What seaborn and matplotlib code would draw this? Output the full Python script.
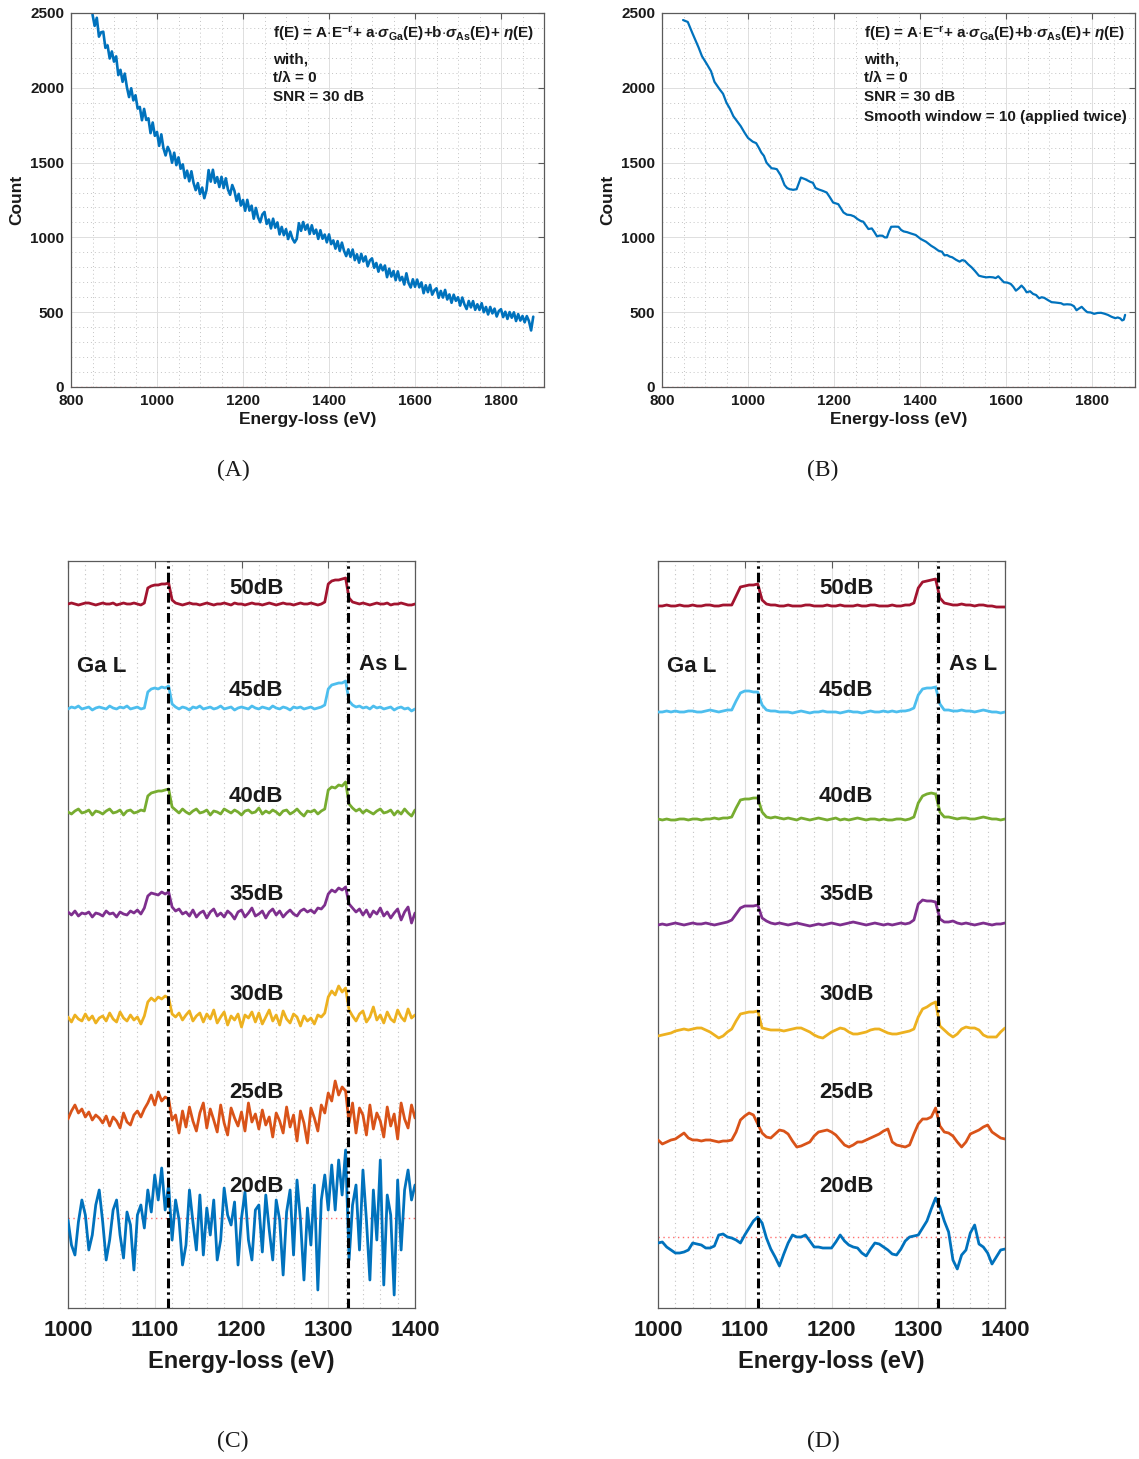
import numpy as np
import matplotlib
matplotlib.use("Agg")
import matplotlib.pyplot as plt
import seaborn as sns
from matplotlib.ticker import MultipleLocator

# ---------------- data ----------------
# Panel A: raw spectrum (5 eV sampling, 850..1875 eV)
countA = [
    2490, 2414, 2468, 2342, 2371, 2375, 2267, 2284, 2196, 2243,
    2175, 2210, 2085, 2120, 2040, 2095, 2004, 1938, 1997, 1916,
    1950, 1861, 1872, 1783, 1859, 1785, 1796, 1697, 1768, 1679,
    1705, 1612, 1689, 1596, 1548, 1605, 1572, 1499, 1566, 1483,
    1535, 1459, 1488, 1397, 1446, 1375, 1442, 1364, 1316, 1363,
    1290, 1333, 1262, 1315,
    1450, 1373, 1452, 1365, 1403, 1337,
    1405, 1330, 1395, 1320, 1285, 1350, 1312, 1244, 1291, 1213,
    1250, 1178, 1251, 1179, 1212, 1125, 1197, 1134, 1101, 1153,
    1170, 1090, 1120, 1060, 1125, 1065, 1100, 1020, 1070, 1015,
    1055, 989, 1038, 992, 966,
    990,
    1095, 1044, 1103, 1051,
    1085, 1023, 1081, 1024, 1052, 990, 1048, 991, 1019, 967,
    1020, 955, 980, 925, 975, 910, 965, 910, 875, 920,
    870, 919, 848, 887, 831, 890, 839, 873, 807, 846,
    860, 797, 829, 771, 818, 780, 812, 734, 791, 738,
    775, 714, 773, 712, 736, 685, 760, 695, 665, 720,
    670, 718, 666, 699, 627, 680, 634, 683, 617, 646,
    660, 596, 642, 598, 649, 585, 619, 563, 617, 576,
    600, 544, 598, 552, 521, 575, 532, 574, 516, 553,
    515, 560, 500, 535, 485, 535, 492, 524, 471, 508,
    520, 467, 503, 455, 501, 463, 499, 441, 487, 444,
    475, 432, 474, 441, 378, 470]

# Panel B: smoothed spectrum
energyB = [
    849, 860, 870, 877, 885, 893, 904, 914, 922, 934,
    942, 950, 958, 966, 975, 983, 992, 1000, 1011, 1019,
    1025, 1031, 1037, 1043, 1049, 1055, 1061, 1067, 1076, 1085,
    1091, 1097, 1105, 1113, 1118, 1123, 1133, 1145, 1151, 1157,
    1165, 1174, 1183, 1190, 1198, 1210, 1216, 1222, 1230, 1239,
    1247, 1255, 1262, 1268, 1274, 1280, 1288, 1294, 1300, 1306,
    1313, 1318, 1323, 1328, 1333, 1342, 1350, 1356, 1362, 1370,
    1378, 1390, 1402, 1414, 1426, 1434, 1443, 1451, 1457, 1463,
    1469, 1475, 1484, 1492, 1498, 1504, 1512, 1520, 1528, 1537,
    1545, 1554, 1562, 1570, 1576, 1582, 1589, 1595, 1603, 1611,
    1617, 1623, 1630, 1636, 1642, 1648, 1656, 1663, 1670, 1677,
    1683, 1689, 1698, 1706, 1714, 1722, 1728, 1734, 1742, 1751,
    1758, 1764, 1770, 1776, 1783, 1789, 1797, 1805, 1813, 1821,
    1829, 1837, 1845, 1854, 1860, 1866, 1870, 1874, 1877]
countB = [
    2453, 2440, 2370, 2324, 2270, 2211, 2160, 2111, 2040, 1990,
    1960, 1900, 1860, 1810, 1775, 1744, 1700, 1665, 1640, 1630,
    1600, 1567, 1545, 1500, 1480, 1462, 1460, 1456, 1415, 1350,
    1330, 1322, 1318, 1322, 1360, 1400, 1389, 1371, 1365, 1330,
    1320, 1311, 1300, 1270, 1233, 1222, 1195, 1167, 1152, 1149,
    1140, 1122, 1110, 1105, 1080, 1056, 1060, 1035, 1007, 1012,
    1011, 1000, 1000, 1040, 1071, 1072, 1071, 1050, 1040, 1035,
    1027, 1016, 989, 971, 944, 930, 911, 904, 880, 882,
    872, 867, 850, 838, 848, 844, 820, 800, 775, 744,
    738, 733, 735, 733, 728, 740, 718, 700, 698, 689,
    670, 644, 660, 678, 660, 633, 640, 622, 615, 593,
    600, 596, 580, 567, 565, 562, 560, 551, 553, 551,
    540, 513, 525, 536, 515, 500, 498, 489, 495, 496,
    490, 482, 470, 460, 465, 458, 445, 450, 482]

snr_labels = ["50dB", "45dB", "40dB", "35dB", "30dB", "25dB", "20dB"]
edges = [1115, 1323]   # Ga L and As L edge energies (eV)

# Panel C: residual traces (4 eV sampling, 1000..1400 eV), relative to their baseline
c50 = [0, 1, 0, -1, 0, 1, 1, 0, -1, 0,
       1, 0, 0, 1, -1, 0, 1, 0, 0, 1,
       0, -1, 1, 16, 18, 19, 19, 20, 20, 21,
       4, 1, 0, -1, 0, 1, 0, 0, -1, 0,
       1, 0, -1, 0, 0, 1, 0, -1, 1, 0,
       0, -1, 0, 1, 0, 0, -1, 0, 1, 0,
       -1, 0, 1, 0, 0, -1, 0, 1, 0, 0,
       1, 0, -1, 0, 2, 20, 23, 24, 24, 25,
       26, 6, 2, 1, 0, 1, 0, -1, 0, 1,
       0, 0, 1, -1, 0, 0, 1, 0, -1, -1, 0]
c45 = [-1, 1, 0, 2, -1, 0, 1, -2, 0, 1,
       0, -1, 2, 0, -1, 1, 0, 2, -1, 0,
       1, -1, 0, 16, 19, 20, 19, 21, 20, 22,
       4, 1, -1, 1, 0, -2, 1, 0, 2, -1,
       0, 1, -1, 0, 2, -1, 0, 1, -2, 0,
       1, 0, -1, 2, 0, -1, 1, 0, -1, 2,
       0, -1, 1, 0, -2, 1, 0, 1, -1, 0,
       1, -1, 0, 1, 3, 19, 23, 24, 25, 25,
       27, 7, 3, 1, 2, 0, 1, -1, 2, 0,
       1, -1, 0, 1, -2, 0, 1, -1, 0, -3, -1]
c40 = [0, -2, 1, 3, -1, 0, 2, -3, 1, 0,
       -2, 1, 3, -1, 0, 2, -3, 1, 2, -1,
       0, 2, 1, 16, 19, 20, 21, 21, 22, 23,
       5, 2, -1, 3, 0, -2, 1, 3, -1, 0,
       2, -3, 1, 0, -2, 3, 1, -1, 2, 0,
       -3, 1, 2, -1, 0, 4, -2, 1, -1, 2,
       0, -3, 1, 2, -2, 0, 3, -1, -4, 1,
       0, 2, -2, 1, 3, 22, 25, 24, 27, 26,
       30, 8, 4, 1, 3, -1, 2, 0, -2, 1,
       3, -1, 0, 2, -3, 1, -2, 3, -1, -4, 2]
c35 = [2, -1, 3, -2, 1, 0, 2, -3, 1, 0,
       -2, 3, 0, 1, -3, 2, 0, -1, 3, 1,
       4, 0, 6, 18, 21, 20, 19, 22, 20, 22,
       7, 3, 5, 0, 2, -2, 4, -3, 1, 3,
       -4, 2, 5, -2, 1, -3, 3, 0, -5, 2,
       4, -3, 1, 6, -2, 0, 3, -4, 2, 5,
       -1, 3, -3, 1, 4, 0, -2, 3, 5, 2,
       4, 1, 6, 5, 9, 20, 24, 22, 26, 24,
       27, 10, 6, 2, 5, -1, 4, -3, 3, 0,
       6, -2, 2, -4, 1, 5, -6, 2, 7, -9, 1]
c30 = [2, -3, 4, 0, -2, 5, -1, 3, -4, 1,
       3, -2, 6, 0, -3, 7, 1, -2, 4, -1,
       2, -5, 3, 17, 21, 18, 22, 20, 23, 21,
       5, 2, 6, -1, 4, 8, -2, 3, 6, -3,
       5, 0, 9, -4, 2, 7, -6, 3, -1, 5,
       -8, 4, 1, 7, -3, 6, -5, 2, 9, -2,
       4, -6, 8, 0, -4, 5, 2, -7, 3, -2,
       1, -5, 4, 2, 6, 22, 28, 24, 33, 27,
       31, 9, 3, -2, 5, 8, -3, 2, 12, -1,
       4, -4, 7, 0, -3, 9, 2, -2, 10, 1, 4]
c25 = [4, 12, 18, 10, 14, 6, 11, 3, 8, 5,
       0, 7, -3, 6, 2, -5, 10, 1, -2, 8,
       12, 6, 14, 20, 28, 18, 31, 22, 26, 24,
       3, 8, -10, 12, -4, 16, 2, -8, 10, 20,
       -5, 14, 3, -9, 18, 0, -12, 15, 5, -3,
       11, -8, 20, 1, 9, -6, 13, -2, 6, -14,
       10, 2, -10, 16, -4, 8, -18, 12, 0, -20,
       15, 5, -8, 18, 10, 30, 22, 42, 28, 36,
       32, 0, 20, -10, 15, 8, -12, 18, -6, 10,
       2, -14, 16, -3, 9, -16, 20, 4, -5, 18, 5]
c20 = [10, -15, -25, 8, 30, 15, -20, -5, 25, 40,
       8, -30, -10, 20, 30, -5, -28, 18, 5, -40,
       15, 25, 2, 40, 18, 55, 30, 62, 20, 45,
       -10, 30, 10, -35, -15, 40, 8, -20, 35, -25,
       22, -5, 30, -30, -10, 42, 15, 5, 28, -35,
       12, 38, -10, -30, 20, 25, -22, 35, 0, -30,
       30, 10, -45, 18, 40, -25, 50, 10, -50, 22,
       -15, 45, -60, 30, 55, 20, 65, 20, 70, 35,
       80, -30, 25, 45, -20, 60, 10, -50, 40, -10,
       70, -55, 35, 15, -65, 50, -20, 40, 60, 30, 45]
offsets_C = [704, 600, 496, 394, 289, 185, 78]
ref_level_C = 90

# Panel D: smoothed traces (5 eV sampling, 1000..1400 eV), relative to their baseline
d50 = [0, 0, 1, 0, 0, 1, 0, 0, 1, 0,
       0, 1, 1, 0, 0, 1, 1, 1, 10, 19,
       20, 21, 21, 22, 6, 2, 1, 1, 0, 0,
       1, 0, 0, 0, 1, 1, 0, 0, 0, 1,
       0, 0, 1, 0, 0, 0, 1, 0, 0, 1,
       1, 0, 0, 0, 1, 0, 0, 1, 1, 3,
       18, 24, 25, 26, 27, 8, 3, 2, 1, 1,
       2, 1, 1, 0, 1, 1, 0, 0, -1, -1, -1]
d45 = [0, 0, 1, 0, 1, 0, 0, 1, 1, 0,
       0, 1, 2, 1, 0, 1, 2, 2, 11, 19,
       21, 21, 20, 20, 7, 2, 1, 1, 0, 0,
       0, -1, 0, 1, 0, -1, 0, 0, 1, 0,
       0, 0, -1, 0, 1, 0, 0, -1, 0, 1,
       0, 0, 1, 0, 1, 0, 1, 1, 2, 4,
       17, 23, 24, 24, 25, 8, 2, 2, 1, 1,
       2, 1, 1, 0, 1, 2, 1, 0, 0, -1, 0]
d40 = [1, 0, 1, 0, 0, 1, 1, 0, 1, 1,
       0, 1, 1, 2, 1, 2, 2, 3, 12, 20,
       21, 21, 22, 22, 8, 3, 2, 3, 2, 1,
       2, 1, 0, 2, 1, 0, 1, 2, 1, 0,
       1, 2, 0, 1, 0, 1, 2, 1, 0, 1,
       1, 0, 1, 0, 0, 1, 1, 0, 1, 3,
       17, 24, 26, 27, 26, 8, 3, 3, 2, 1,
       2, 2, 1, 1, 2, 3, 2, 1, 1, 0, 1]
d35 = [0, 1, 0, 1, 2, 1, 0, 1, 2, 1,
       1, 2, 1, 0, 1, 2, 3, 5, 11, 17,
       19, 19, 19, 20, 7, 4, 2, 1, 2, 1,
       0, 1, 2, 1, 0, -1, 0, 1, 0, 1,
       2, 1, 0, 1, 2, 3, 2, 1, 0, 1,
       2, 1, 0, 1, 0, 1, 2, 1, 2, 5,
       21, 25, 24, 24, 23, 6, 3, 3, 4, 2,
       1, 2, 1, 0, 1, 2, 1, 0, 1, 1, 2]
d30 = [-1, 0, 1, 2, 4, 5, 6, 5, 6, 7,
       7, 5, 3, 0, -3, -1, 3, 6, 14, 21,
       22, 23, 23, 24, 7, 6, 5, 5, 5, 4,
       5, 6, 7, 7, 5, 3, 0, -2, -3, 0,
       3, 5, 7, 6, 3, 1, 1, 2, 3, 5,
       6, 6, 4, 2, 1, 1, 2, 3, 4, 6,
       18, 26, 28, 31, 33, 9, 5, 1, -2, 1,
       6, 8, 7, 7, 5, 0, -2, -2, -2, 3, 7]
d25 = [2, -2, 0, 2, 3, 6, 9, 4, 2, 2,
       1, 2, 2, 1, 0, 1, 1, 2, 10, 22,
       26, 29, 27, 18, 9, 5, 4, 8, 12, 11,
       8, 1, -5, -4, -2, 0, 6, 10, 11, 12,
       10, 7, 2, -3, -5, -3, 0, 0, 2, 4,
       6, 8, 11, 13, 0, -3, -4, -5, -3, 8,
       18, 23, 23, 25, 34, 16, 10, 9, 6, 0,
       -5, 0, 8, 10, 12, 15, 17, 10, 7, 4, 3]
d20 = [2, 3, -2, -5, -8, -8, -7, -5, 2, 1,
       0, -3, -3, -1, 10, 11, 8, 7, 5, 2,
       10, 17, 24, 28, 22, 7, -4, -12, -21, -9,
       2, 10, 8, 8, 10, 4, -2, -2, -3, -3,
       -3, 3, 10, 4, 0, -2, -3, -8, -11, -4,
       2, 1, -2, -5, -9, -10, -4, 4, 8, 9,
       10, 17, 24, 36, 47, 38, 24, 13, -15, -24,
       -10, -5, 12, 20, 1, -2, -8, -19, -12, -5, -4]
offsets_D = [702, 596, 488, 383, 273, 166, 63]
ref_level_D = 71

traces_C = [c50, c45, c40, c35, c30, c25, c20]
traces_D = [d50, d45, d40, d35, d30, d25, d20]

# ---------------- style ----------------
sns.set_style("white")
plt.rcParams["font.family"] = ["Liberation Sans", "DejaVu Sans"]
plt.rcParams["font.weight"] = "bold"
plt.rcParams["axes.labelweight"] = "bold"
plt.rcParams["mathtext.fontset"] = "custom"
plt.rcParams["mathtext.rm"] = "Liberation Sans:bold"
plt.rcParams["mathtext.it"] = "Liberation Sans:italic:bold"
plt.rcParams["mathtext.bf"] = "Liberation Sans:bold"
plt.rcParams["text.color"] = "#1a1a1a"
plt.rcParams["axes.labelcolor"] = "#1a1a1a"
plt.rcParams["xtick.color"] = "#1a1a1a"
plt.rcParams["ytick.color"] = "#1a1a1a"

trace_colors = ["#A2142F", "#4DBEEE", "#77AC30", "#7E2F8E", "#EDB120", "#D95319", "#0072BD"]
blue = "#0072BD"

W, H = 1139, 1459
fig = plt.figure(figsize=(W / 100, H / 100), dpi=100)


def px_axes(l, t, r, b):
    return fig.add_axes([l / W, 1 - b / H, (r - l) / W, (b - t) / H])


axA = px_axes(71, 13, 544, 387)
axB = px_axes(662, 13, 1135, 387)
axC = px_axes(68, 561, 415, 1308)
axD = px_axes(658, 561, 1005, 1308)

dashdot = (0, (3.2, 1.3, 0.8, 1.3))
reddot = (0, (1, 2.5))


def style_spines(ax):
    for s in ax.spines.values():
        s.set_color("#5a5a5a")
        s.set_linewidth(0.9)


def style_ab(ax):
    ax.set_xlim(800, 1900)
    ax.set_ylim(0, 2500)
    ax.set_xticks(range(800, 1801, 200))
    ax.set_yticks(range(0, 2501, 500))
    ax.xaxis.set_minor_locator(MultipleLocator(50))
    ax.yaxis.set_minor_locator(MultipleLocator(100))
    ax.grid(True, which="major", color="#dedede", lw=0.7, ls="-")
    ax.grid(True, which="minor", color="#c4c4c4", lw=0.7, ls=(0, (1, 3)))
    ax.set_axisbelow(True)
    ax.tick_params(which="major", direction="in", length=4, top=True, right=True,
                   labelsize=11, pad=5, color="#5a5a5a")
    ax.tick_params(which="minor", length=0)
    for lab in ax.get_xticklabels() + ax.get_yticklabels():
        lab.set_fontweight("bold")
    ax.set_xlabel("Energy-loss (eV)", fontsize=12.5, fontweight="bold", labelpad=3)
    ax.set_ylabel("Count", fontsize=12.5, fontweight="bold", labelpad=4)
    ax.axhline(0, color="#ff6f6f", lw=1.0, ls=reddot, zorder=3)
    style_spines(ax)


def style_cd(ax, ref_level):
    ax.set_xlim(1000, 1400)
    ax.set_ylim(0, 747)
    ax.set_xticks(range(1000, 1401, 100))
    ax.set_yticks([])
    ax.xaxis.set_minor_locator(MultipleLocator(20))
    ax.grid(True, axis="x", which="major", color="#dedede", lw=0.8, ls="-")
    ax.grid(True, axis="x", which="minor", color="#c4c4c4", lw=0.8, ls=(0, (1, 3)))
    ax.set_axisbelow(True)
    ax.tick_params(axis="x", which="major", direction="in", length=5, top=True,
                   labelsize=16, pad=9, color="#5a5a5a")
    ax.tick_params(axis="x", which="minor", length=0)
    for lab in ax.get_xticklabels():
        lab.set_fontweight("bold")
    ax.set_xlabel("Energy-loss (eV)", fontsize=17, fontweight="bold", labelpad=6)
    ax.set_ylabel("")
    ax.axhline(ref_level, color="#ff6f6f", lw=1.0, ls=reddot, zorder=1.5)
    for e in edges:
        ax.axvline(e, color="black", lw=2.2, ls=dashdot, zorder=4)
    style_spines(ax)


# ---------------- panel A ----------------
energyA = np.linspace(850, 1875, len(countA))
sns.lineplot(x=energyA, y=countA, ax=axA, color=blue, lw=1.9, estimator=None, legend=False)
style_ab(axA)
formula = (r"f(E) = A$\cdot$E$^{\mathrm{-r}}$+ a$\cdot\sigma_{\mathrm{Ga}}$(E)"
           r"+b$\cdot\sigma_{\mathrm{As}}$(E)+ $\eta$(E)")
textA = [formula, "with,", "t/λ = 0", "SNR = 30 dB"]
ys = [0.944, 0.875, 0.826, 0.775, 0.722]
for t, y in zip(textA, ys):
    axA.text(0.427, y, t, transform=axA.transAxes, fontsize=11, fontweight="bold",
             ha="left", va="center")

# ---------------- panel B ----------------
sns.lineplot(x=energyB, y=countB, ax=axB, color=blue, lw=1.6, estimator=None,
             sort=False, legend=False)
style_ab(axB)
textB = textA + ["Smooth window = 10 (applied twice)"]
for t, y in zip(textB, ys):
    axB.text(0.427, y, t, transform=axB.transAxes, fontsize=11, fontweight="bold",
             ha="left", va="center")

# ---------------- panels C and D ----------------
label_y = [719, 617, 511, 414, 313, 216, 122]
for ax, traces, offs, ref in [(axC, traces_C, offsets_C, ref_level_C),
                              (axD, traces_D, offsets_D, ref_level_D)]:
    style_cd(ax, ref)
    for vals, off, col, lab, ly in zip(traces, offs, trace_colors, snr_labels, label_y):
        e = np.linspace(1000, 1400, len(vals))
        sns.lineplot(x=e, y=np.asarray(vals) + off, ax=ax, color=col, lw=2.0,
                     estimator=None, legend=False, zorder=3)
        ax.text(1217, ly, lab, ha="center", va="center", fontsize=16, fontweight="bold",
                zorder=5)
    ax.text(1010, 642, "Ga L", ha="left", va="center", fontsize=16, fontweight="bold")
    ax.text(1335, 644, "As L", ha="left", va="center", fontsize=16, fontweight="bold")

# ---------------- captions ----------------
for lab, x, y in [("(A)", 233, 470), ("(B)", 823, 470), ("(C)", 233, 1441), ("(D)", 823, 1441)]:
    fig.text(x / W, 1 - y / H, lab, ha="center", va="center", fontsize=17,
             family=["Liberation Serif", "DejaVu Serif"], fontweight="normal")

fig.savefig("out.png", dpi=100)
